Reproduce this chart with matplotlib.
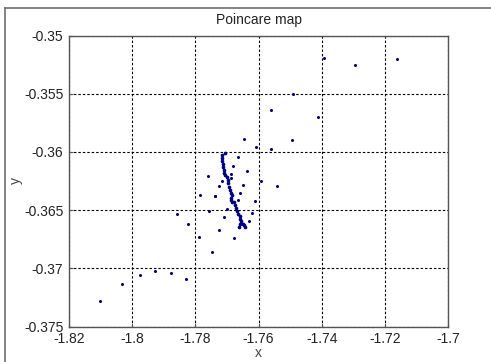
import matplotlib
matplotlib.use("Agg")
import matplotlib.pyplot as plt
from matplotlib.lines import Line2D

plt.rcParams["font.family"] = ["Liberation Sans", "DejaVu Sans"]

# scattered section points
scatter_x = [-1.8103, -1.8032, -1.7976, -1.7927, -1.7876, -1.7829, -1.7748, -1.7788,
             -1.7824, -1.7857, -1.7757, -1.7784, -1.7738, -1.7726, -1.7676, -1.7709,
             -1.7629, -1.7622, -1.7611, -1.7592, -1.7543, -1.7648, -1.7635, -1.7559,
             -1.7608, -1.7495, -1.7645, -1.7412, -1.7562, -1.7492, -1.7393, -1.7295,
             -1.7163, -1.7761, -1.7725, -1.7738, -1.7717, -1.7687, -1.7680, -1.7666,
             -1.7657, -1.7701, -1.7664, -1.7686]
scatter_y = [-0.37277, -0.37131, -0.37056, -0.37027, -0.37041, -0.37088, -0.36856, -0.36732,
             -0.36620, -0.36532, -0.36512, -0.36366, -0.36377, -0.36669, -0.36740, -0.36555,
             -0.36592, -0.36526, -0.36418, -0.36254, -0.36297, -0.36283, -0.36160, -0.35973,
             -0.35956, -0.35899, -0.35893, -0.35696, -0.35636, -0.35503, -0.35194, -0.35252,
             -0.35200, -0.36205, -0.36297, -0.36383, -0.36248, -0.36220, -0.36125, -0.36040,
             -0.36354, -0.36489, -0.36411, -0.36190]

# dense band of section points
band_x = [-1.7706, -1.7715, -1.7714, -1.7714, -1.7713, -1.7712, -1.7710, -1.7709,
          -1.7705, -1.7700, -1.7697, -1.7695, -1.7693, -1.7690, -1.7688, -1.7685,
          -1.7687, -1.7687, -1.7683, -1.7678, -1.7673, -1.7670, -1.7667, -1.7664,
          -1.7660, -1.7657, -1.7655, -1.7662, -1.7659, -1.7654, -1.7649, -1.7646,
          -1.7643]
band_y = [-0.36010, -0.36025, -0.36051, -0.36076, -0.36102, -0.36128, -0.36154, -0.36177,
          -0.36197, -0.36214, -0.36240, -0.36270, -0.36300, -0.36326, -0.36351, -0.36373,
          -0.36394, -0.36416, -0.36433, -0.36429, -0.36454, -0.36485, -0.36510, -0.36532,
          -0.36553, -0.36575, -0.36596, -0.36643, -0.36622, -0.36607, -0.36618, -0.36631,
          -0.36643]

x_ticks = [-1.82, -1.8, -1.78, -1.76, -1.74, -1.72, -1.7]
y_ticks = [-0.375, -0.37, -0.365, -0.36, -0.355, -0.35]

fig = plt.figure(figsize=(4.91, 3.62), dpi=100)
fig.patch.set_facecolor("white")

# window edge lines
fig.add_artist(Line2D([5 / 491, 5 / 491], [0, 1 - 8 / 362], color="#6e6e6e", lw=1.2,
                      transform=fig.transFigure))
fig.add_artist(Line2D([5 / 491, 1], [1 - 8 / 362, 1 - 8 / 362], color="#6e6e6e", lw=1.2,
                      transform=fig.transFigure))

ax = fig.add_axes([69 / 491, 35.5 / 362, 379 / 491, 291 / 362])
ax.plot(scatter_x, scatter_y, ".", color="#000080", ms=2.4)
ax.plot(band_x, band_y, ".", color="#000080", ms=3.3)

ax.set_xlim(-1.82, -1.7)
ax.set_ylim(-0.375, -0.35)
ax.set_xticks(x_ticks)
ax.set_xticklabels(["-1.82", "-1.8", "-1.78", "-1.76", "-1.74", "-1.72", "-1.7"])
ax.set_yticks(y_ticks)
ax.set_yticklabels(["-0.375", "-0.37", "-0.365", "-0.36", "-0.355", "-0.35"])
ax.grid(True, color="black", linestyle=(0, (2.2, 1.8)), linewidth=0.8)
ax.tick_params(direction="in", length=3, width=0.8, colors="#555555",
               labelcolor="#222222", labelsize=10)
ax.tick_params(axis="y", pad=4)
ax.tick_params(axis="x", pad=4)
for s in ax.spines.values():
    s.set_color("#555555")
    s.set_linewidth(1.0)

ax.set_title("Poincare map", fontsize=10, color="#222222", pad=8)
ax.set_xlabel("x", fontsize=10, color="#444444", labelpad=0)
ax.set_ylabel("y", fontsize=10, color="#444444", labelpad=1)

fig.savefig("out.png", dpi=100)
